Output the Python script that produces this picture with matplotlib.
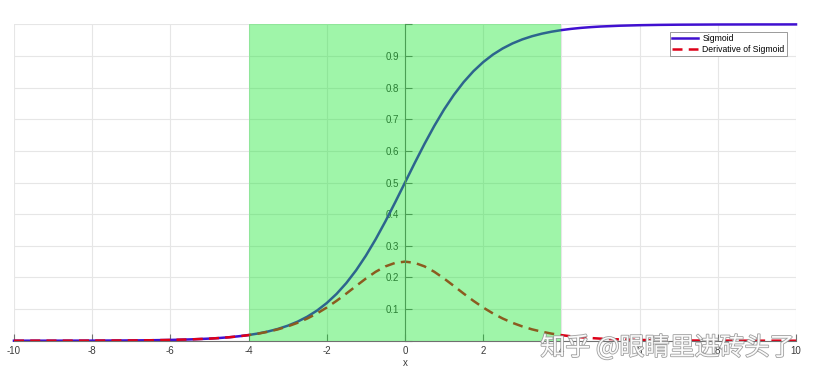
import numpy as np
import matplotlib
matplotlib.use("Agg")
import matplotlib.pyplot as plt
import matplotlib.patheffects as pe

plt.rcParams['font.family'] = ['Liberation Sans', 'DejaVu Sans']
plt.rcParams['axes.unicode_minus'] = False

# values: step 0.5 in the flat tails, 0.25 in the middle
x = np.concatenate([np.arange(-10, -5, 0.5), np.arange(-5, 5.01, 0.25), np.arange(5.5, 10.01, 0.5)])
sig_left = [0.0000, 0.0001, 0.0001, 0.0002, 0.0003, 0.0006, 0.0009, 0.0015, 0.0025, 0.0041,
            0.0067, 0.0086, 0.0110, 0.0141, 0.0180, 0.0230, 0.0293, 0.0373, 0.0474, 0.0601,
            0.0759, 0.0953, 0.1192, 0.1480, 0.1824, 0.2227, 0.2689, 0.3208, 0.3775, 0.4378]
sigmoid = sig_left + [0.5] + [round(1 - v, 4) for v in sig_left[::-1]]
der_left = [0.0000, 0.0001, 0.0001, 0.0002, 0.0003, 0.0006, 0.0009, 0.0015, 0.0025, 0.0041,
            0.0066, 0.0085, 0.0109, 0.0139, 0.0177, 0.0224, 0.0285, 0.0359, 0.0452, 0.0565,
            0.0701, 0.0862, 0.1050, 0.1261, 0.1491, 0.1731, 0.1966, 0.2179, 0.2350, 0.2461]
derivative = der_left + [0.25] + der_left[::-1]

xticks = list(range(-10, 11, 2))
yticks = [round(0.1 * i, 1) for i in range(11)]
ylabels = [''] + [str(v) for v in yticks[1:10]] + ['']

fig = plt.figure(figsize=(8.17, 3.79), dpi=100)
ax = fig.add_axes([0.0171, 0.101, 0.9572, 0.8346])

ax.plot(x, sigmoid, color='#4010d0', lw=1.8, label='Sigmoid', clip_on=False, zorder=2)
ax.plot(x, derivative, color='#dd0018', lw=1.8, ls=(0, (4, 2.5)), label='Derivative of Sigmoid',
        clip_on=False, zorder=2.1)

# shaded band on top of the curves
ax.axvspan(-4, 4, ymin=0, ymax=1, color='#11e62a', alpha=0.4, lw=0, zorder=3)

ax.set_xlim(-10, 10)
ax.set_ylim(0, 1)
ax.spines['left'].set_position(('data', 0))
ax.spines['bottom'].set_position(('data', 0))
ax.spines['top'].set_visible(False)
ax.spines['right'].set_visible(False)
for s in ['left', 'bottom']:
    ax.spines[s].set_color('#707070')
    ax.spines[s].set_linewidth(0.8)

ax.set_xticks(xticks)
ax.set_yticks(yticks)
ax.set_yticklabels(ylabels)
ax.tick_params(direction='in', length=5, width=0.8, colors='#707070', labelsize=7,
               labelcolor='#3a3a3a')
ax.tick_params(axis='y', pad=4)
ax.grid(True, color='#e6e6e6', lw=0.8)
ax.set_axisbelow(True)
ax.set_xlabel('x', fontsize=7, color='#3a3a3a', labelpad=2)

leg = ax.legend(loc='upper right', bbox_to_anchor=(0.988, 0.975), fontsize=6.2, frameon=True,
                fancybox=False, edgecolor='#8a8a8a', framealpha=1, handlelength=3.0,
                borderpad=0.25, labelspacing=0.15, handletextpad=0.5, borderaxespad=0)
leg.get_frame().set_linewidth(0.6)
leg.set_zorder(5)

fig.text(0.817, 0.082, '知乎 @眼睛里进砖头了', family=['Noto Sans CJK SC', 'DejaVu Sans'],
         fontsize=18, color='white', ha='center', va='center', alpha=0.95,
         path_effects=[pe.withStroke(linewidth=1.2, foreground='#9a9a9a')])

fig.savefig('out.png', dpi=100)
